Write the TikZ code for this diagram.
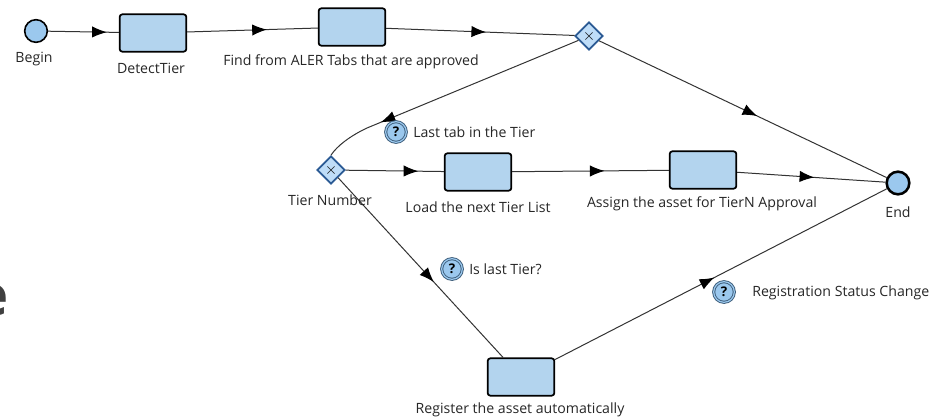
\documentclass[tikz,border=0pt]{standalone}
\usepackage{fontspec}
\setmainfont{Open Sans}
\usepackage{tikz}
\usetikzlibrary{arrows.meta,decorations.markings,shapes.geometric}
\definecolor{taskblue}{HTML}{B3D4EE}
\definecolor{eventblue}{HTML}{9BC8EE}
\definecolor{gateblue}{HTML}{BFDDF8}
\definecolor{gateline}{HTML}{2B5A94}
\definecolor{queryline}{HTML}{3F5F7C}
\definecolor{wire}{HTML}{333333}

\begin{document}
\begin{tikzpicture}[x=0.75pt,y=-0.75pt]
            \tikzstyle{event}=[circle,draw=black,fill=eventblue,minimum size=17pt,inner sep=0pt,line width=1.2pt]
            \tikzstyle{endevent}=[event,line width=1.9pt]
            \tikzstyle{task}=[rectangle,rounded corners=2pt,draw=black,fill=taskblue,minimum width=50pt,minimum height=28pt,inner sep=0pt,line width=1.3pt]
            \tikzstyle{gate}=[diamond,aspect=1,draw=gateline,fill=gateblue,minimum size=21pt,inner sep=0pt,line width=1.3pt,text=black,font=\large]
            \tikzstyle{query}=[circle,draw=queryline,fill=eventblue,double=eventblue,double distance=0.9pt,minimum size=15.5pt,inner sep=0pt,line width=0.7pt,font=\bfseries\normalsize]
            \tikzstyle{caption}=[inner sep=0pt,font=\fontsize{10.6}{12}\selectfont,text=black!85]
            \tikzstyle{flow}=[draw=wire,line width=0.75pt,postaction={decorate},decoration={markings,mark=at position #1 with {\arrow{Latex[length=11pt,width=8.5pt,black]}}}]

            \useasboundingbox (0,0) rectangle (940,418);

                \node[event] (E-1) at (36, 31){};
                \node[endevent] (E-2) at (898, 183){};

                \node[task] (T-1) at (153, 33){};
                \node[task] (T-2) at (352, 27){};
                \node[task] (T-3) at (478, 172){};
                \node[task] (T-4) at (703, 170){};
                \node[task] (T-5) at (521, 377){};

                \node[gate] (G-1) at (589, 36){$\times$};
                \node[gate] (G-2) at (331, 170){$\times$};

                \coordinate (B-1) at (367, 128);

                \foreach \from/\to/\tip in {E-1/T-1/.83, T-1/T-2/.61, T-2/G-1/.53, G-1/E-2/.55, G-2/T-3/.74, T-3/T-4/.59, T-4/E-2/.52, G-2/T-5/.58, T-5/E-2/.48}
                    \draw[flow=\tip] (\from) -- (\to);

                \draw[flow=.78] (G-1) -- (B-1) .. controls (350,136) and (337,146) .. (G-2.north);

                \node[caption] (L-1) at (34, 59){Begin};
                \node[caption] (L-2) at (151, 68){DetectTier};
                \node[caption] (L-3) at (351, 62){Find from ALER Tabs that are approved};
                \node[caption] (L-4) at (330, 200){Tier Number};
                \node[caption] (L-5) at (478, 207){Load the next Tier List};
                \node[caption] (L-6) at (702, 204){Assign the asset for TierN Approval};
                \node[caption] (L-7) at (898, 212){End};
                \node[caption] (L-8) at (520, 410){Register the asset automatically};

                \node[query] (Q-1) at (396, 132){?};
                \node[query] (Q-2) at (452, 269){?};
                \node[query] (Q-3) at (724, 292){?};
                \node[caption,anchor=west] (L-9) at (413, 132){Last tab in the Tier};
                \node[caption,anchor=west] (L-10) at (469, 269){Is last Tier?};
                \node[caption,anchor=west] (L-11) at (752, 293){Registration Status Change};

                \node[inner sep=0pt,anchor=east,text=black!75,font=\bfseries\fontsize{42}{46}\selectfont] (L-12) at (9, 300){e};
\end{tikzpicture}
\end{document}
